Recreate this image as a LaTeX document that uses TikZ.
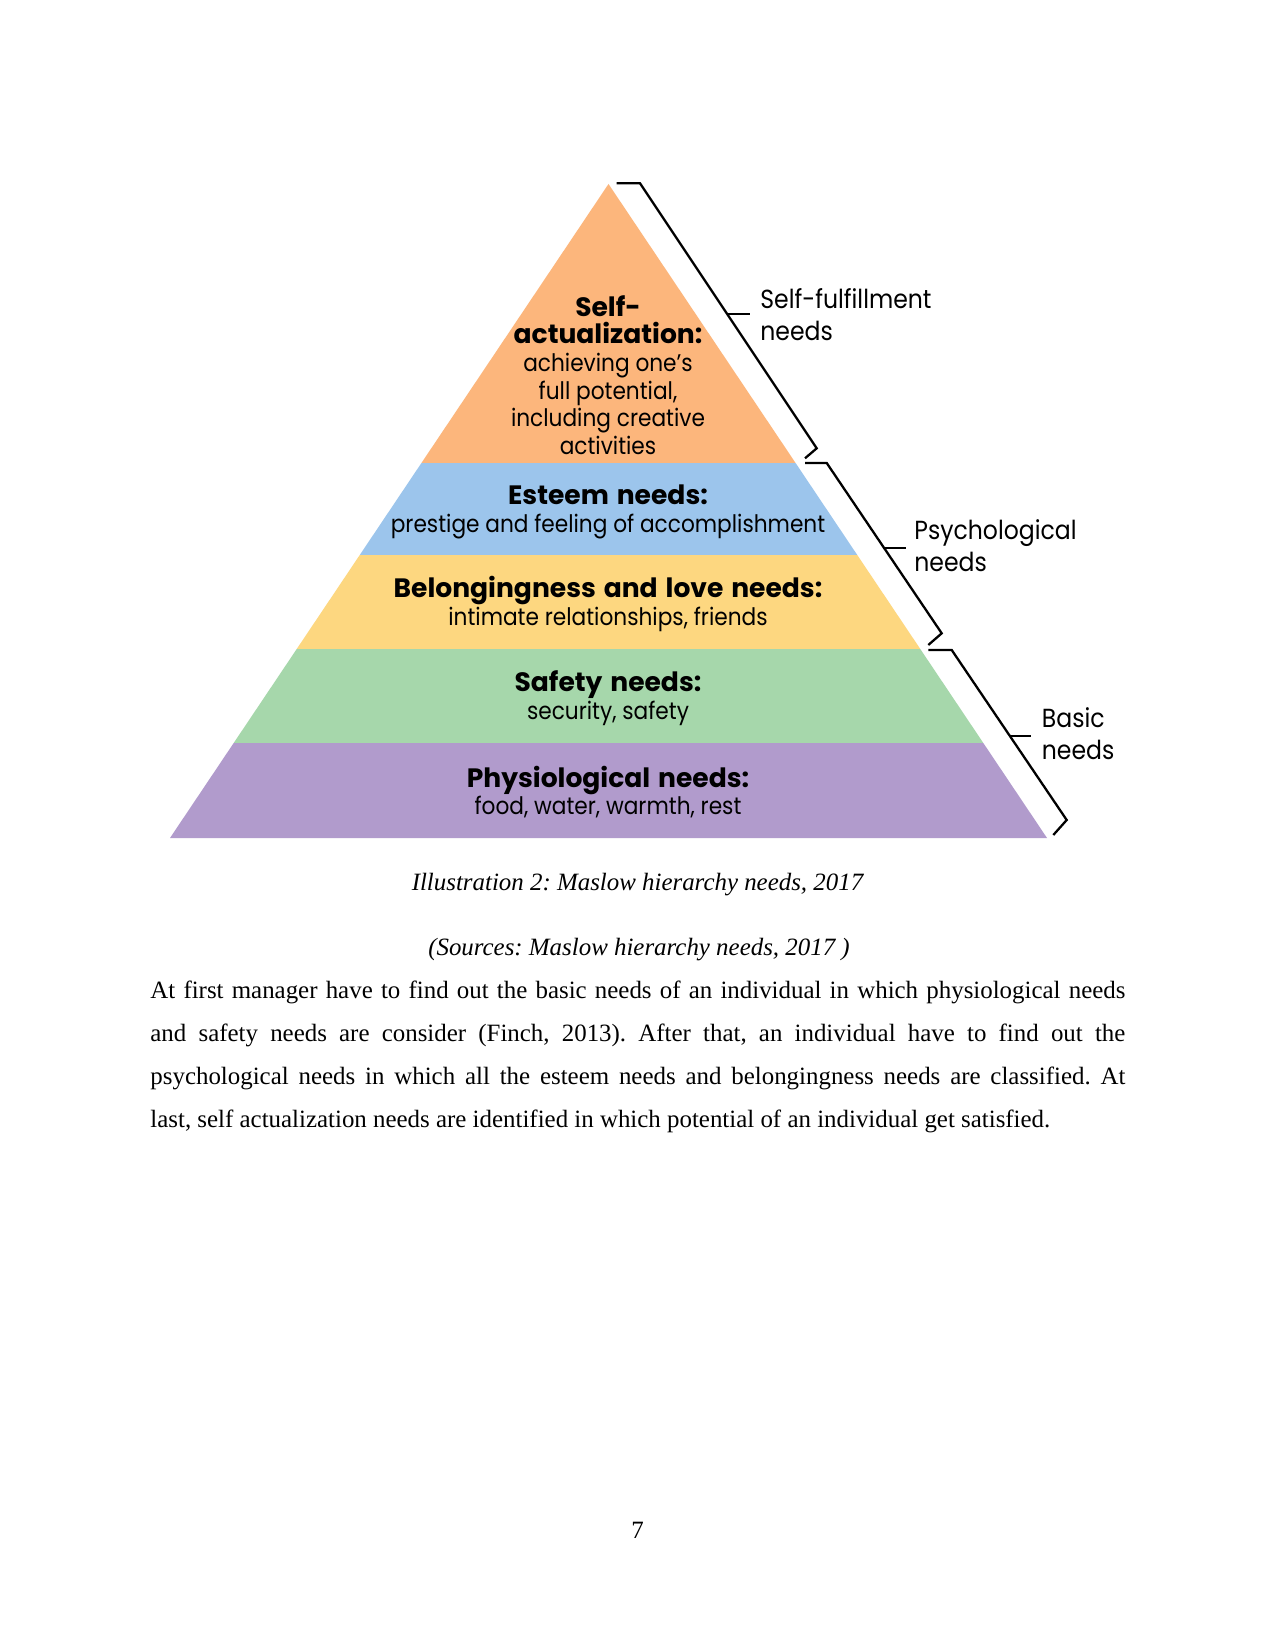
\documentclass[tikz,border=0pt]{standalone}
\usepackage{fontspec}
\setmainfont{Liberation Serif}
\newfontfamily\pyr[FakeStretch=0.9]{Poppins}
\newfontfamily\pyrb[FakeStretch=1.0,WordSpace=1.4]{Poppins Bold}
\newcommand{\ttl}[1]{{\pyrb\fontsize{12.8pt}{13.3pt}\selectfont #1}}
\definecolor{cOrange}{RGB}{252,182,124}
\definecolor{cBlue}{RGB}{156,197,236}
\definecolor{cYellow}{RGB}{253,215,128}
\definecolor{cGreen}{RGB}{166,215,171}
\definecolor{cPurple}{RGB}{177,155,204}
\tikzset{
  band/.style={inner sep=0pt, align=center, font=\pyr\fontsize{11.6pt}{13.3pt}\selectfont},
  side/.style={inner sep=0pt, align=left, anchor=west, font=\pyr\fontsize{12.6pt}{15.4pt}\selectfont},
  brace/.style={line width=1.1pt, line join=miter},
  body/.style={inner sep=0pt, anchor=base west, font=\fontsize{12pt}{14pt}\selectfont},
  capt/.style={inner sep=0pt, anchor=base, font=\itshape\fontsize{12pt}{14pt}\selectfont}
}
\begin{document}
\frenchspacing
\begin{tikzpicture}[x=0.4818pt, y=-0.4818pt]
\useasboundingbox (0,0) rectangle (1275,1650);
\fill[white] (0,0) rectangle (1275,1650);
% pyramid bands
\begin{scope}
  \clip (608.5,184) -- (1047,838) -- (170,838) -- cycle;
  \fill[cOrange] (150,180) rectangle (1100,463);
  \fill[cBlue]   (150,463) rectangle (1100,555);
  \fill[cYellow] (150,555) rectangle (1100,649);
  \fill[cGreen]  (150,649) rectangle (1100,743);
  \fill[cPurple] (150,743) rectangle (1100,840);
\end{scope}
% texts in pyramid
\node[band] (self) at (608,375) {\ttl{Self-}\\\ttl{actualization:}\\achieving one’s\\full potential,\\including creative\\activities};
\node[band] (esteem) at (608,512) {\ttl{Esteem needs:}\\prestige and feeling of accomplishment};
\node[band] (belong) at (608,604) {\ttl{Belongingness and love needs:}\\intimate relationships, friends};
\node[band] (safety) at (608,698) {\ttl{Safety needs:}\\security, safety};
\node[band] (physio) at (608,792) {\ttl{Physiological needs:}\\food, water, warmth, rest};
% braces
\draw[brace] (616.7,183.3) -- (640,183.3) -- (816.7,448.3) -- (805,458.3);
\draw[brace] (727,314) -- (750,314);
\draw[brace] (805,463) -- (826.7,463) -- (941.7,633.3) -- (928.3,645);
\draw[brace] (884.4,548.3) -- (906,548.3);
\draw[brace] (928.3,650) -- (951.7,650) -- (1066.7,820) -- (1053.3,835);
\draw[brace] (1009.6,735.7) -- (1030.7,735.7);
% side labels
\node[side] (lself) at (760,315) {Self-fulfillment\\needs};
\node[side] (lpsy) at (914,546) {Psychological\\needs};
\node[side] (lbas) at (1041.5,734) {Basic\\needs};
% captions
\node[capt] (cap1) at (637.5,890.5) {Illustration 2: Maslow hierarchy needs, 2017};
\node[capt] (cap2) at (639,955) {(Sources: Maslow hierarchy needs, 2017 )};
% body
\node[body] (l1) at (150,998) {\makebox[469.75pt][s]{At first manager have to find out the basic needs of an individual in which physiological needs}};
\node[body] (l2) at (150,1041) {\makebox[469.75pt][s]{and safety needs are consider (Finch, 2013). After that, an individual have to find out the}};
\node[body] (l3) at (150,1084) {\makebox[469.75pt][s]{psychological needs in which all the esteem needs and belongingness needs are classified. At}};
\node[body] (l4) at (150,1127) {last, self actualization needs are identified in which potential of an individual get satisfied.};
\node[capt, font=\fontsize{12pt}{14pt}\selectfont] (pnum) at (637.5,1538) {7};
\end{tikzpicture}
\end{document}
